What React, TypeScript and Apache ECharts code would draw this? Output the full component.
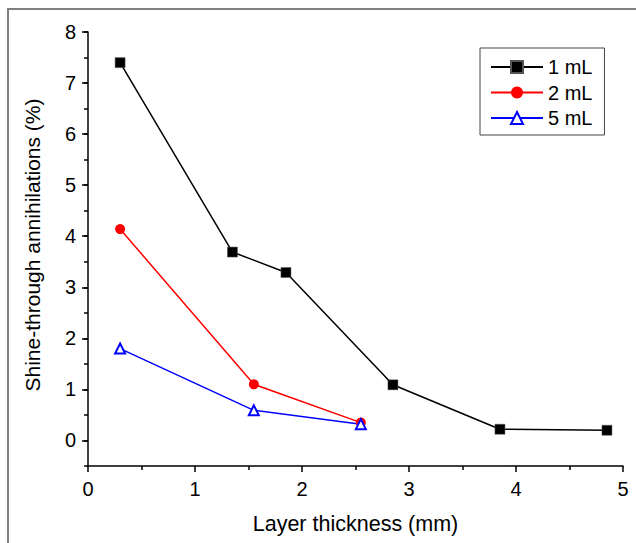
import React, { useEffect, useRef } from "react";
import * as echarts from "echarts";

const seriesNames = ["1 mL", "2 mL", "5 mL"];
const x1mL = [0.3, 1.35, 1.85, 2.85, 3.85, 4.85];
const y1mL = [7.4, 3.69, 3.29, 1.09, 0.22, 0.2];
const x2mL = [0.3, 1.55, 2.55];
const y2mL = [4.14, 1.1, 0.35];
const x5mL = [0.3, 1.55, 2.55];
const y5mL = [1.8, 0.59, 0.32];
const xTickLabels = ["0", "1", "2", "3", "4", "5"];
const yTickLabels = ["0", "1", "2", "3", "4", "5", "6", "7", "8"];

const FONT = "Liberation Sans, Arial, sans-serif";

function pairs(xs: number[], ys: number[]) {
  return xs.map((x, i) => [x, ys[i]]);
}

export default function App() {
  const ref = useRef<HTMLDivElement>(null);
  useEffect(() => {
    if (!ref.current) return;
    const chart = echarts.init(ref.current, undefined, { renderer: "svg" });
    const W = 636;
    const H = 543;
    const left = 88;
    const right = 13;
    const top = 32;
    const bottom = 77;
    const plotH = H - top - bottom;
    const yMin = -0.5;
    const yMax = 8;
    const zeroPx = top + plotH * (yMax - 0) / (yMax - yMin);
    chart.setOption({
      animation: false,
      backgroundColor: "#fff",
      textStyle: { fontFamily: FONT },
      grid: [
        { left, right, top, bottom },
        { left, right, top, bottom: H - zeroPx },
      ],
      xAxis: [
        {
          gridIndex: 0,
          type: "value",
          min: 0,
          max: 5,
          interval: 1,
          axisLine: { show: true, onZero: false, lineStyle: { color: "#000", width: 1.5 } },
          axisTick: { show: true, inside: false, length: 6, lineStyle: { color: "#000", width: 1.5 } },
          minorTick: { show: true, splitNumber: 2, length: 4, lineStyle: { color: "#000", width: 1.5 } },
          axisLabel: {
            fontSize: 20,
            color: "#000",
            fontFamily: FONT,
            margin: 13,
            formatter: (v: number) => xTickLabels[Math.round(v)] ?? "",
          },
          splitLine: { show: false },
          minorSplitLine: { show: false },
        },
        {
          gridIndex: 1,
          type: "value",
          min: 0,
          max: 5,
          show: false,
        },
      ],
      yAxis: [
        {
          gridIndex: 0,
          type: "value",
          min: yMin,
          max: yMax,
          interval: 0.5,
          axisLine: { show: true, onZero: false, lineStyle: { color: "#000", width: 1.5 } },
          axisTick: { show: true, inside: false, length: 4, lineStyle: { color: "#000", width: 1.5 } },
          axisLabel: { show: false },
          splitLine: { show: false },
        },
        {
          gridIndex: 1,
          type: "value",
          min: 0,
          max: 8,
          interval: 1,
          axisLine: { show: false },
          axisTick: { show: true, inside: false, length: 6, lineStyle: { color: "#000", width: 1.5 } },
          axisLabel: {
            fontSize: 20,
            color: "#000",
            fontFamily: FONT,
            margin: 12,
            formatter: (v: number) => yTickLabels[Math.round(v)] ?? "",
          },
          splitLine: { show: false },
        },
      ],
      legend: {
        left: 480,
        top: 48,
        orient: "vertical",
        align: "left",
        padding: [9, 12, 7, 10],
        itemWidth: 52,
        itemHeight: 15,
        itemGap: 5.5,
        itemTextGap: 7,
        borderColor: "#444",
        borderWidth: 1,
        textStyle: { fontSize: 20, lineHeight: 20, color: "#000", fontFamily: FONT },
        data: seriesNames,
      },
      series: [
        {
          name: seriesNames[0],
          type: "line",
          xAxisIndex: 0,
          yAxisIndex: 0,
          data: pairs(x1mL, y1mL),
          symbol: "rect",
          symbolSize: 10,
          lineStyle: { color: "#000", width: 1.5 },
          itemStyle: { color: "#000", borderColor: "#555", borderWidth: 0.5 },
        },
        {
          name: seriesNames[1],
          type: "line",
          xAxisIndex: 0,
          yAxisIndex: 0,
          data: pairs(x2mL, y2mL),
          symbol: "circle",
          symbolSize: 10,
          lineStyle: { color: "#ff0000", width: 1.5 },
          itemStyle: { color: "#ff0000" },
        },
        {
          name: seriesNames[2],
          type: "line",
          xAxisIndex: 0,
          yAxisIndex: 0,
          data: pairs(x5mL, y5mL),
          symbol: "triangle",
          symbolSize: 10,
          lineStyle: { color: "#0000ff", width: 1.5 },
          itemStyle: { color: "#fff", borderColor: "#0000ff", borderWidth: 2 },
        },
        {
          type: "line",
          xAxisIndex: 1,
          yAxisIndex: 1,
          data: [],
          silent: true,
        },
      ],
      graphic: [
        {
          type: "line",
          shape: { x1: 7, y1: 9, x2: W, y2: 9 },
          style: { stroke: "#808080", lineWidth: 2 },
        },
        {
          type: "line",
          shape: { x1: 8, y1: 8, x2: 8, y2: H },
          style: { stroke: "#808080", lineWidth: 2 },
        },
        {
          type: "text",
          x: 355.5,
          y: 524,
          style: {
            text: "Layer thickness (mm)",
            fontSize: 21.5,
            fontFamily: FONT,
            fill: "#000",
            align: "center",
            verticalAlign: "middle",
          },
        },
        {
          type: "text",
          x: 32,
          y: 245,
          rotation: Math.PI / 2,
          style: {
            text: "Shine-through annihilations (%)",
            fontSize: 21,
            fontFamily: FONT,
            fill: "#000",
            align: "center",
            verticalAlign: "middle",
          },
        },
      ],
    });
    return () => chart.dispose();
  }, []);
  return (
    <div
      ref={ref}
      style={{ width: 636, height: 543, position: "absolute", left: 0, top: 0 }}
    />
  );
}
